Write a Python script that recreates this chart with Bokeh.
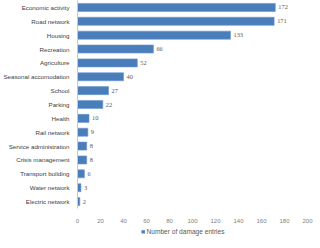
from bokeh.plotting import figure
from bokeh.layouts import column
from bokeh.models import FactorRange, Range1d, FixedTicker, ColumnDataSource, LabelSet, Legend, LegendItem
from bokeh.embed import file_html
from bokeh.resources import INLINE

categories = ["Economic activity", "Road network", "Housing", "Recreation", "Agriculture",
              "Seasonal accomodation", "School", "Parking", "Health", "Rail network",
              "Service administration", "Crisis management", "Transport building",
              "Water network", "Electric network"]
values = [172, 171, 133, 66, 52, 40, 27, 22, 10, 9, 8, 8, 6, 3, 2]
x_ticks = [0, 20, 40, 60, 80, 100, 120, 140, 160, 180, 200]
series_name = "Number of damage entries"

FONT = "Liberation Sans"
BAR_FILL = "#4a7ebb"
BAR_LINE = "#6a96cf"

src = ColumnDataSource(dict(cat=categories, val=values, lab=[str(v) for v in values]))

p = figure(frame_width=230, frame_height=208, output_backend="svg", toolbar_location=None,
           y_range=FactorRange(factors=list(reversed(categories)), range_padding=0),
           x_range=Range1d(0, 200),
           min_border_left=0, min_border_right=6, min_border_top=0, min_border_bottom=0)

p.hbar(y="cat", right="val", height=0.58, source=src,
       fill_color=BAR_FILL, line_color=BAR_LINE, line_width=0.6)

labels = LabelSet(x="val", y="cat", text="lab", source=src, x_offset=3,
                  text_baseline="middle", text_font=FONT, text_font_size="6.4px",
                  text_color="#595959")
p.add_layout(labels)

p.xgrid.visible = False
p.ygrid.visible = False
p.outline_line_color = None

p.xaxis.ticker = FixedTicker(ticks=x_ticks)
p.xaxis.axis_line_color = None
p.xaxis.major_tick_line_color = None
p.xaxis.minor_tick_line_color = None
p.xaxis.major_label_text_font = FONT
p.xaxis.major_label_text_font_size = "6px"
p.xaxis.major_label_text_color = "#808080"
p.xaxis.major_label_standoff = 4

p.yaxis.axis_line_color = "#c8c8c8"
p.yaxis.major_tick_line_color = None
p.yaxis.minor_tick_line_color = None
p.yaxis.major_label_text_font = FONT
p.yaxis.major_label_text_font_size = "6.2px"
p.yaxis.major_label_text_color = "#404040"
p.yaxis.major_label_standoff = 2

# legend strip below the chart
lf = figure(width=294, height=12, output_backend="svg", toolbar_location=None,
            x_range=Range1d(0, 1), y_range=Range1d(0, 1),
            min_border_left=0, min_border_right=0, min_border_top=0, min_border_bottom=0)
lf.axis.visible = False
lf.grid.visible = False
lf.outline_line_color = None
proxy = lf.hbar(y=[0.5], right=[0.0], height=0.0, fill_color=BAR_FILL, line_color=BAR_LINE)
proxy.visible = False
legend = Legend(items=[LegendItem(label=series_name, renderers=[proxy])],
                location="center", orientation="horizontal",
                label_text_font=FONT, label_text_font_size="6.6px", label_text_color="#595959",
                glyph_width=4, glyph_height=4, label_height=6, label_standoff=2,
                padding=1, margin=0, spacing=0, border_line_color=None, background_fill_alpha=0,
                inactive_fill_alpha=0)
lf.add_layout(legend)

open("out.html", "w").write(file_html(column(p, lf, spacing=0), INLINE))
